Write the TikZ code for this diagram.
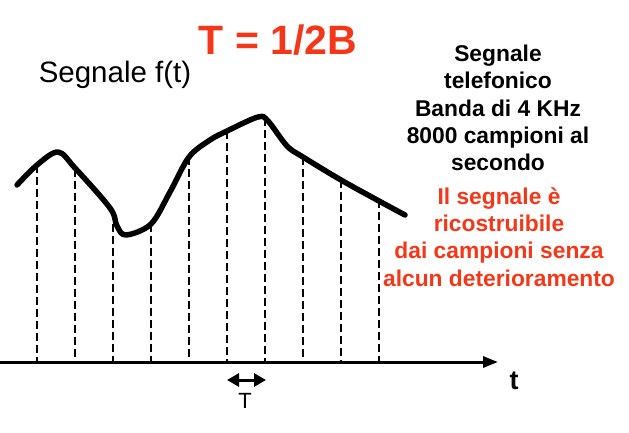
\documentclass[tikz,border=0pt]{standalone}
\usepackage{fontspec}
\setmainfont{Liberation Sans}
\usetikzlibrary{arrows.meta}
\definecolor{accent}{RGB}{245,55,25}

\begin{document}
\begin{tikzpicture}[
                    >=latex,
                    x=1pt, y=-1pt,
                    sample/.style={line width=2.6pt, dash pattern=on 8pt off 4pt},
                    note/.style={align=center, font=\fontsize{22.8}{27.3}\selectfont\bfseries}]

                \useasboundingbox (0,0) rectangle (629,432);

                \draw(278,40) node (title) {\fontsize{41}{45}\selectfont\bfseries\color{accent} T = 1/2B};
                \draw(115,75) node (label) {\fontsize{29.5}{32}\selectfont Segnale f(t)};
                \draw(498,108) node[note] (info) {Segnale\\telefonico\\Banda di 4 KHz\\8000 campioni al\\secondo};
                \draw(499,237) node[note, text=accent] (claim) {Il segnale è\\ricostruibile\\dai campioni senza\\alcun deterioramento};

                \foreach \x/\y in {37/165, 75/169, 113/212, 151/224, 189/157, 227/131, 265/118, 303/157, 341/180, 379/200}
                    \draw[sample] (\x,\y) -- (\x,362);

                \draw[line width=5.5pt, line cap=round, line join=round] plot[smooth, tension=0.55] coordinates
                    {(17,185) (37,165) (58,152) (75,168) (110,208) (117,226) (126,235) (151,224) (170,192) (189,157) (210,140) (227,131) (258,117) (268,121) (287,146) (303,157) (341,180) (379,201) (405,215)};

                \coordinate (o) at (0,362);
                \coordinate (tend) at (498,362);
                \draw[line width=3pt, -{Triangle[length=15pt,width=11pt]}] (o) -- (tend);
                \draw(514,381) node (t) {\fontsize{27}{30}\selectfont\bfseries t};

                \coordinate (ta) at (227,380);
                \coordinate (tb) at (266,380);
                \draw[line width=3pt, {Triangle[length=12pt,width=13pt]}-{Triangle[length=12pt,width=13pt]}] (ta) -- (tb);
                \draw(245,401) node (T) {\fontsize{22}{24}\selectfont T};

            \end{tikzpicture}
\end{document}
